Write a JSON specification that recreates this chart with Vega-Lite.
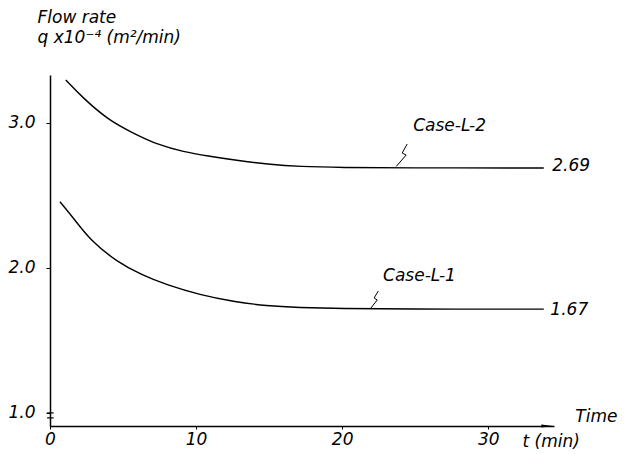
{
  "$schema": "https://vega.github.io/schema/vega-lite/v6.json",
  "width": 504,
  "height": 351,
  "autosize": {"type": "none"},
  "padding": {"left": 50, "top": 75, "right": 77, "bottom": 28},
  "background": "white",
  "config": {
    "view": {"stroke": null},
    "font": "DejaVu Sans",
    "axis": {"grid": false, "domainColor": "black", "tickColor": "black", "labelColor": "black", "titleColor": "black"}
  },
  "datasets": {
    "curves": [
      {"case": "Case-L-2", "t": 1.08, "q": 3.297},
      {"case": "Case-L-2", "t": 2.28, "q": 3.17},
      {"case": "Case-L-2", "t": 3.99, "q": 3.021},
      {"case": "Case-L-2", "t": 5.71, "q": 2.929},
      {"case": "Case-L-2", "t": 7.42, "q": 2.848},
      {"case": "Case-L-2", "t": 9.13, "q": 2.802},
      {"case": "Case-L-2", "t": 10.84, "q": 2.772},
      {"case": "Case-L-2", "t": 12.55, "q": 2.745},
      {"case": "Case-L-2", "t": 14.95, "q": 2.715},
      {"case": "Case-L-2", "t": 17.1, "q": 2.699},
      {"case": "Case-L-2", "t": 20.0, "q": 2.693},
      {"case": "Case-L-2", "t": 24.0, "q": 2.69},
      {"case": "Case-L-2", "t": 33.8, "q": 2.69},
      {"case": "Case-L-1", "t": 0.68, "q": 2.457},
      {"case": "Case-L-1", "t": 1.71, "q": 2.331},
      {"case": "Case-L-1", "t": 2.74, "q": 2.193},
      {"case": "Case-L-1", "t": 4.57, "q": 2.043},
      {"case": "Case-L-1", "t": 6.28, "q": 1.952},
      {"case": "Case-L-1", "t": 7.99, "q": 1.883},
      {"case": "Case-L-1", "t": 10.27, "q": 1.814},
      {"case": "Case-L-1", "t": 12.55, "q": 1.768},
      {"case": "Case-L-1", "t": 14.84, "q": 1.738},
      {"case": "Case-L-1", "t": 17.0, "q": 1.727},
      {"case": "Case-L-1", "t": 20.0, "q": 1.72},
      {"case": "Case-L-1", "t": 24.0, "q": 1.716},
      {"case": "Case-L-1", "t": 33.8, "q": 1.716}
    ],
    "leaders": [
      {"case": "Case-L-2", "k": 1, "t": 24.45, "q": 2.855},
      {"case": "Case-L-2", "k": 2, "t": 24.11, "q": 2.793},
      {"case": "Case-L-2", "k": 3, "t": 24.38, "q": 2.779},
      {"case": "Case-L-2", "k": 4, "t": 23.70, "q": 2.70},
      {"case": "Case-L-1", "k": 1, "t": 22.47, "q": 1.841},
      {"case": "Case-L-1", "k": 2, "t": 22.19, "q": 1.793},
      {"case": "Case-L-1", "k": 3, "t": 22.40, "q": 1.779},
      {"case": "Case-L-1", "k": 4, "t": 21.92, "q": 1.718}
    ],
    "breaks": [
      {"t": -0.2, "t2": 0.25, "q": 1.0},
      {"t": -0.2, "t2": 0.25, "q": 0.966}
    ],
    "arrow": [{"t": 34.04, "q": 0.91}],
    "labels": [
      {"text": "Case-L-2", "t": 24.86, "q": 2.98},
      {"text": "Case-L-1", "t": 22.8, "q": 1.945},
      {"text": "2.69", "t": 34.38, "q": 2.70},
      {"text": "1.67", "t": 34.25, "q": 1.712},
      {"text": "Time", "t": 35.96, "q": 0.975}
    ]
  },
  "encoding": {
    "x": {
      "field": "t", "type": "quantitative",
      "scale": {"domain": [0, 34.5], "nice": false, "zero": false},
      "axis": {
        "values": [0, 10, 20, 30], "format": "d",
        "labelFontSize": 17, "labelFontStyle": "italic", "labelPadding": 2,
        "tickSize": 3, "domainWidth": 1.5, "labelFlush": false,
        "title": "t (min)", "titleFontSize": 17, "titleFontStyle": "italic", "titleFontWeight": "normal",
        "titleAlign": "left", "titleBaseline": "alphabetic", "titleX": 472, "titleY": 20, "titleAngle": 0
      }
    },
    "y": {
      "field": "q", "type": "quantitative",
      "scale": {"domain": [0.91, 3.331], "nice": false, "zero": false},
      "axis": {
        "values": [1, 2, 3], "format": ".1f",
        "labelFontSize": 17, "labelFontStyle": "italic", "labelPadding": 11,
        "tickSize": 4, "domainWidth": 1.5,
        "title": ["Flow rate", "q x10⁻⁴ (m²/min)"], "titleFontSize": 17, "titleFontStyle": "italic", "titleFontWeight": "normal",
        "titleAngle": 0, "titleAlign": "left", "titleBaseline": "alphabetic", "titleX": -13, "titleY": -53, "titleLineHeight": 20
      }
    }
  },
  "layer": [
    {
      "data": {"name": "curves"},
      "mark": {"type": "line", "interpolate": "basis", "color": "black", "strokeWidth": 1.4},
      "encoding": {"detail": {"field": "case"}}
    },
    {
      "data": {"name": "leaders"},
      "mark": {"type": "line", "color": "black", "strokeWidth": 1},
      "encoding": {"detail": {"field": "case"}, "order": {"field": "k"}}
    },
    {
      "data": {"name": "breaks"},
      "mark": {"type": "rule", "color": "black", "strokeWidth": 1.2},
      "encoding": {"x2": {"field": "t2"}}
    },
    {
      "data": {"name": "arrow"},
      "mark": {"type": "point", "shape": "M -1 -0.25 L 1 0 L -1 0.25 Z", "size": 144, "filled": true, "color": "black", "opacity": 1},
      "encoding": {}
    },
    {
      "data": {"name": "labels"},
      "mark": {"type": "text", "align": "left", "baseline": "middle", "fontSize": 17, "fontStyle": "italic", "color": "black"},
      "encoding": {"text": {"field": "text"}}
    }
  ]
}
